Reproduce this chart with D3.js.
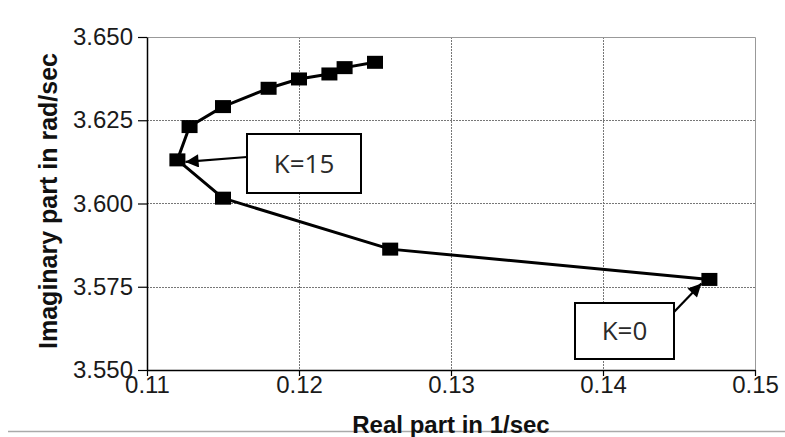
<!DOCTYPE html>
<html>
<head>
<meta charset="utf-8">
<script src="https://cdn.jsdelivr.net/npm/d3@7"></script>
<style>
  html, body { margin: 0; padding: 0; background: #fff; }
  svg { display: block; }
</style>
</head>
<body>
<svg id="chart" width="785" height="437"></svg>
<script>
// Root locus points, from K=0 to the end of the sweep
const realPart = [0.147, 0.126, 0.115, 0.112, 0.1128, 0.115, 0.118, 0.120, 0.122, 0.123, 0.125];
const imagPart = [3.5772, 3.5863, 3.6016, 3.6131, 3.6231, 3.6291, 3.6346, 3.6374, 3.6389, 3.6408, 3.6424];

// Axis ticks
const xTicks = [0.11, 0.12, 0.13, 0.14, 0.15];
const yTicks = [3.550, 3.575, 3.600, 3.625, 3.650];

// Gain callouts and the point each one marks
const calloutText = ["K=15", "K=0"];
const calloutIndex = [3, 0];

const svg = d3.select("#chart");
const plot = { left: 147, right: 755, top: 37, bottom: 370 };

const x = d3.scaleLinear().domain([0.11, 0.15]).range([plot.left, plot.right]);
const y = d3.scaleLinear().domain([3.550, 3.650]).range([plot.bottom, plot.top]);

const tickFont = "'Liberation Sans', Arial, sans-serif";

// bottom rule
svg.append("line")
  .attr("x1", 8).attr("x2", 785).attr("y1", 431.5).attr("y2", 431.5)
  .attr("stroke", "#aaa").attr("stroke-width", 1.5);

// dotted grid
const grid = svg.append("g");
grid.selectAll(".gx").data(xTicks.slice(1, -1)).join("line")
  .attr("x1", d => Math.round(x(d)) + 0.5).attr("x2", d => Math.round(x(d)) + 0.5)
  .attr("y1", plot.top).attr("y2", plot.bottom)
  .attr("stroke", "#777").attr("stroke-width", 1).attr("stroke-dasharray", "2,1");
grid.selectAll(".gy").data(yTicks.slice(1, -1)).join("line")
  .attr("y1", d => Math.round(y(d)) + 0.5).attr("y2", d => Math.round(y(d)) + 0.5)
  .attr("x1", plot.left).attr("x2", plot.right)
  .attr("stroke", "#777").attr("stroke-width", 1).attr("stroke-dasharray", "2,1");

// top and right frame
svg.append("path")
  .attr("d", `M${plot.left},${plot.top + 0.5}H${plot.right + 0.5}V${plot.bottom}`)
  .attr("fill", "none").attr("stroke", "#999").attr("stroke-width", 1);

// axes
const xAxis = d3.axisBottom(x).tickValues(xTicks).tickFormat(d3.format(".2f"))
  .tickSizeInner(6).tickSizeOuter(0).tickPadding(0);
const yAxis = d3.axisLeft(y).tickValues(yTicks).tickFormat(d3.format(".3f"))
  .tickSizeInner(9).tickSizeOuter(0).tickPadding(5);

const gx = svg.append("g").attr("transform", `translate(0,${plot.bottom})`).call(xAxis);
const gy = svg.append("g").attr("transform", `translate(${plot.left},0)`).call(yAxis);
[gx, gy].forEach(g => {
  g.select(".domain").attr("stroke", "#000").attr("stroke-width", 1.5);
  g.selectAll(".tick line").attr("stroke", "#000").attr("stroke-width", 1.2);
  g.selectAll(".tick text").attr("fill", "#1a1a1a")
    .style("font-family", tickFont).style("font-size", "24px");
});
gx.selectAll(".tick text").attr("dy", "0.72em");

// axis titles
svg.append("text")
  .attr("x", (plot.left + plot.right) / 2).attr("y", 433)
  .attr("text-anchor", "middle")
  .style("font-family", tickFont).style("font-size", "24px").style("font-weight", "bold")
  .attr("fill", "#111")
  .text("Real part in 1/sec");

svg.append("text")
  .attr("transform", "translate(57,201) rotate(-90)")
  .attr("text-anchor", "middle")
  .style("font-family", tickFont).style("font-size", "25px").style("font-weight", "bold")
  .attr("fill", "#111")
  .text("Imaginary part in rad/sec");

// locus line and markers
const pts = realPart.map((r, i) => [r, imagPart[i]]);
svg.append("path")
  .datum(pts)
  .attr("d", d3.line().x(d => x(d[0])).y(d => y(d[1])))
  .attr("fill", "none").attr("stroke", "#000").attr("stroke-width", 3)
  .attr("stroke-linejoin", "round");

const mw = 16, mh = 13;
svg.append("g").selectAll("rect").data(pts).join("rect")
  .attr("x", d => x(d[0]) - mw / 2).attr("y", d => y(d[1]) - mh / 2)
  .attr("width", mw).attr("height", mh).attr("fill", "#000");

// callouts
svg.append("defs").append("marker")
  .attr("id", "head").attr("viewBox", "0 0 10 10")
  .attr("refX", 10).attr("refY", 5)
  .attr("markerWidth", 6.5).attr("markerHeight", 6)
  .attr("markerUnits", "strokeWidth").attr("orient", "auto")
  .append("path").attr("d", "M0,0L10,5L0,10Z").attr("fill", "#000");

const boxes = [
  { x: 247, y: 134, w: 114, h: 59, from: [247, 157], gap: [8, 2] },
  { x: 575, y: 303, w: 99, h: 56, from: [674, 312], gap: [-8, 4] }
];
const labelFont = "'Open Sans', 'Noto Sans', sans-serif";
calloutText.forEach((t, i) => {
  const b = boxes[i];
  const p = pts[calloutIndex[i]];
  svg.append("line")
    .attr("x1", b.from[0]).attr("y1", b.from[1])
    .attr("x2", x(p[0]) + b.gap[0]).attr("y2", y(p[1]) + b.gap[1])
    .attr("stroke", "#000").attr("stroke-width", 2.2)
    .attr("marker-end", "url(#head)");
  svg.append("rect")
    .attr("x", b.x).attr("y", b.y).attr("width", b.w).attr("height", b.h)
    .attr("fill", "#fff").attr("stroke", "#000").attr("stroke-width", 2);
  svg.append("text")
    .attr("x", b.x + b.w / 2).attr("y", b.y + b.h / 2)
    .attr("text-anchor", "middle").attr("dy", "0.36em")
    .style("font-family", labelFont).style("font-size", "26px")
    .attr("fill", "#2a2a2a")
    .text(t);
});
</script>
</body>
</html>
